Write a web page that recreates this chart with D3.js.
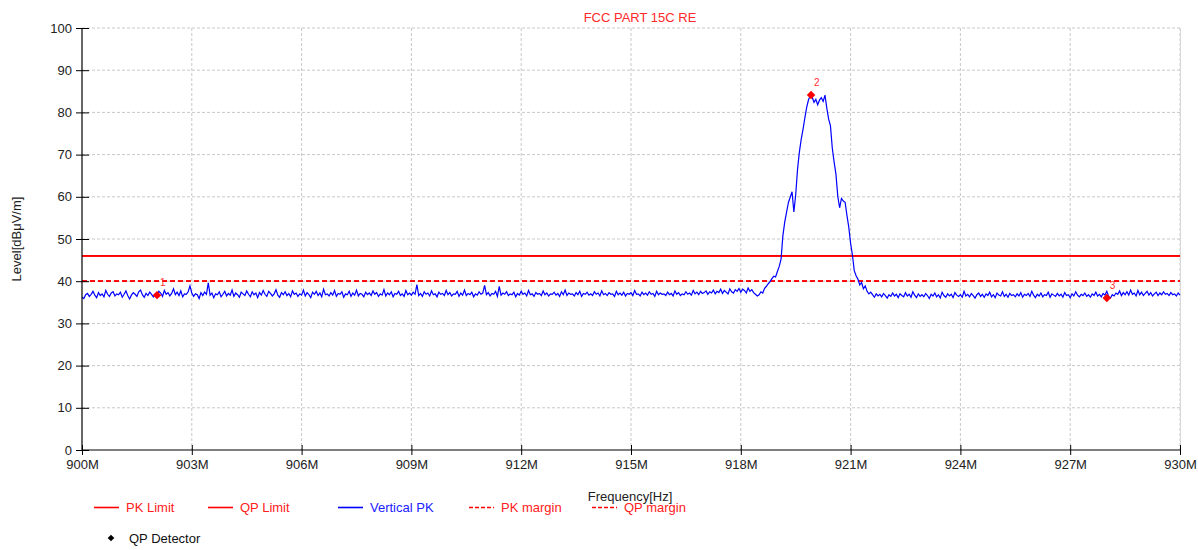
<!DOCTYPE html>
<html>
<head>
<meta charset="utf-8">
<script src="https://cdn.jsdelivr.net/npm/d3@7.9.0/dist/d3.min.js"></script>
<style>
  body { margin: 0; background: #fff; }
  svg { display: block; font-family: "Liberation Sans", Arial, sans-serif; }
</style>
</head>
<body>
<svg id="chart" width="1198" height="550"></svg>
<script>
const title = 'FCC PART 15C RE';
const freqStart = 900;   // MHz
const freqStep = 0.05;   // MHz per sweep point
const xTicks = [900, 903, 906, 909, 912, 915, 918, 921, 924, 927, 930];
const yTicks = [0, 10, 20, 30, 40, 50, 60, 70, 80, 90, 100];

const pkLimit = 46;
const qpLimit = 46;
const pkMargin = 40;
const qpMargin = 40;

// Vertical PK sweep, dBuV/m
const verticalPK = [
  36.2,35.9,36.8,37.1,36.4,36.9,37.6,36.7,36.1,37.3,36.6,37.0,36.3,37.8,36.9,36.4,37.2,37.5,36.5,37.0,
  36.8,37.4,36.2,36.9,37.7,36.6,35.8,36.7,37.3,36.9,36.4,37.5,37.9,36.8,36.2,37.1,36.6,37.4,36.9,36.3,
  37.0,36.7,37.6,37.2,36.4,37.8,36.9,37.3,36.5,37.1,38.2,36.8,37.4,36.6,37.7,36.3,37.0,36.9,37.5,38.9,
  37.2,36.4,37.0,36.8,35.9,37.3,36.6,37.4,36.9,39.6,36.7,37.2,36.1,37.0,36.8,37.5,36.3,36.9,37.6,36.5,
  37.1,36.7,37.9,36.4,37.2,36.8,36.2,37.4,37.0,36.6,37.7,36.9,36.3,37.5,36.8,37.2,36.1,37.3,36.7,37.8,
  36.9,36.4,37.6,37.1,36.5,37.0,38.0,36.7,36.2,37.3,36.8,37.5,36.6,37.1,36.3,37.7,36.9,37.2,36.4,37.0,
  36.7,37.9,36.5,37.3,36.8,36.1,37.4,36.9,37.6,36.6,37.2,36.3,38.1,36.8,37.0,36.5,37.3,36.7,37.8,36.4,
  37.1,36.9,37.5,36.2,37.0,36.8,37.6,36.4,37.2,36.7,37.9,36.5,37.1,36.9,36.3,37.4,36.8,37.2,36.6,37.7,
  36.9,37.3,36.4,37.0,36.7,38.0,36.5,37.2,36.8,37.5,36.3,37.1,36.9,37.6,36.6,37.0,36.4,37.8,36.8,37.2,
  36.7,37.4,36.9,39.2,36.6,37.1,36.4,37.5,36.9,37.2,36.5,37.7,36.8,37.0,36.3,37.4,36.9,37.1,36.6,37.8,
  36.8,37.3,36.5,37.0,36.9,37.6,36.4,37.2,36.7,37.9,36.6,37.1,36.8,37.4,36.3,37.0,36.7,37.5,36.9,37.2,
  39.0,36.8,37.3,36.5,37.1,36.9,37.6,36.4,38.8,36.7,37.2,36.9,37.5,36.6,37.0,36.8,37.4,36.3,37.1,36.7,
  37.6,36.9,37.2,36.5,37.8,36.8,37.0,36.4,37.3,36.9,37.1,36.6,37.7,36.8,37.2,36.5,37.0,36.9,37.4,36.7,
  37.1,36.4,37.5,36.8,37.9,36.6,37.2,36.9,37.0,36.5,37.3,36.8,37.6,36.4,37.1,36.9,37.4,36.7,37.0,36.6,
  37.5,36.9,37.2,36.5,37.7,36.8,37.1,36.6,37.3,36.9,37.0,36.4,37.6,36.8,37.2,36.7,37.4,36.5,37.1,36.9,
  37.3,36.6,37.8,36.9,37.0,36.5,37.4,36.8,37.2,36.7,37.5,36.9,37.1,36.4,37.6,36.8,37.2,36.9,37.0,36.6,
  37.4,36.8,37.1,36.5,37.7,36.9,37.3,36.6,37.0,36.8,37.5,36.9,37.2,36.7,37.8,37.0,37.4,36.8,37.6,37.1,
  37.3,37.7,36.9,37.5,37.2,37.9,37.0,37.6,37.3,38.1,37.1,37.8,37.4,37.0,38.2,37.5,37.2,38.0,37.6,38.3,
  37.4,38.1,37.8,37.2,38.4,37.6,38.0,37.3,36.9,36.5,
  36.8,37.5,37.2,38.3,38.8,39.4,39.9,40.6,41.2,41.0,42.3,43.5,45.2,50.8,54.0,56.3,58.6,59.9,61.2,56.4,
  60.5,66.5,70.6,73.6,76.0,78.7,81.2,83.0,84.0,83.6,82.4,83.1,81.8,82.9,83.5,82.6,84.1,81.0,78.4,76.8,
  71.5,68.2,65.3,60.1,57.4,59.6,59.0,58.7,55.6,52.8,49.0,46.2,42.5,41.3,40.5,39.1,39.7,38.2,38.9,37.6,
  37.0,
  37.4,36.8,36.2,37.0,36.5,36.9,36.3,37.1,36.6,36.0,36.8,36.4,37.2,36.5,36.9,36.1,37.0,36.6,36.3,37.3,
  36.5,36.9,36.2,37.5,36.7,36.1,37.0,36.4,36.8,36.3,37.1,36.6,35.9,36.9,36.5,37.2,36.3,36.8,36.0,37.4,
  36.6,36.2,37.0,36.5,36.9,36.1,37.3,36.7,36.4,36.8,36.2,37.6,36.5,36.9,36.3,37.1,36.6,36.0,36.8,37.2,
  36.4,36.9,36.2,37.0,36.6,37.4,36.3,36.8,36.1,37.2,36.7,36.5,37.5,36.4,36.9,36.2,37.1,36.6,36.8,36.3,
  37.0,36.5,37.3,36.2,36.9,36.6,37.1,36.4,37.6,36.7,36.1,36.9,36.5,37.2,36.3,36.8,36.6,37.4,36.2,37.0,
  36.7,36.4,37.1,36.5,36.9,36.2,37.3,36.6,36.8,36.1,37.0,36.5,37.5,36.7,36.3,36.9,36.6,37.2,36.4,36.8,
  36.2,37.0,36.6,37.4,36.5,36.9,36.3,37.1,36.7,37.6,36.4,36.0,36.8,36.5,37.2,36.9,37.7,36.6,37.3,36.8,
  37.5,36.7,37.9,36.9,37.2,36.5,37.8,36.8,37.4,36.6,37.1,37.6,36.7,37.3,36.5,37.0,37.4,36.6,37.2,36.8,
  37.5,36.9,37.1,36.6,37.3,36.8,37.0,36.5,37.2,36.7
];

// QP detector readings
const markerIds = ['1', '2', '3'];
const markerFreq = [902.05, 919.92, 928.0];
const markerLevel = [36.7, 84.1, 36.0];

const legendRow1 = [
  { label: 'PK Limit', color: '#ff0000', dash: null, text: '#ff2020' },
  { label: 'QP Limit', color: '#ff0000', dash: null, text: '#ff2020' },
  { label: 'Vertical PK', color: '#0000ff', dash: null, text: '#2020ff' },
  { label: 'PK margin', color: '#ff0000', dash: '4,2', text: '#ff2020' },
  { label: 'QP margin', color: '#ff0000', dash: '4,2', text: '#ff2020' }
];
const legendX = [94, 208, 338, 469, 592];

const svg = d3.select('#chart');
const m = { left: 82, right: 1180, top: 28, bottom: 450 };

const x = d3.scaleLinear().domain([900, 930]).range([m.left, m.right]);
const y = d3.scaleLinear().domain([0, 100]).range([m.bottom, m.top]);

// grid
svg.append('g')
  .selectAll('line')
  .data(yTicks.filter(d => d > 0))
  .join('line')
    .attr('x1', m.left).attr('x2', m.right)
    .attr('y1', d => y(d)).attr('y2', d => y(d))
    .attr('stroke', '#c8c8c8')
    .attr('stroke-dasharray', '3,2');

svg.append('g')
  .selectAll('line')
  .data(xTicks.filter(d => d > 900))
  .join('line')
    .attr('x1', d => x(d)).attr('x2', d => x(d))
    .attr('y1', m.top).attr('y2', m.bottom)
    .attr('stroke', '#c8c8c8')
    .attr('stroke-dasharray', '3,2');

svg.append('line')
  .attr('x1', m.right + 0.5).attr('x2', m.right + 0.5)
  .attr('y1', m.top).attr('y2', m.bottom)
  .attr('stroke', '#d8d8d8');

// title
svg.append('text')
  .attr('x', 640).attr('y', 22)
  .attr('text-anchor', 'middle')
  .attr('font-size', 13)
  .attr('fill', '#ff2a2a')
  .text(title);

// limit and margin lines
const limits = [
  { v: pkLimit, dash: null },
  { v: qpLimit, dash: null },
  { v: pkMargin, dash: '5,3' },
  { v: qpMargin, dash: '5,3' }
];
svg.append('g')
  .selectAll('line')
  .data(limits)
  .join('line')
    .attr('x1', m.left).attr('x2', m.right)
    .attr('y1', d => y(d.v)).attr('y2', d => y(d.v))
    .attr('stroke', '#ff0000')
    .attr('stroke-width', 1.8)
    .attr('stroke-dasharray', d => d.dash);

// trace
const line = d3.line()
  .x((d, i) => x(freqStart + i * freqStep))
  .y(d => y(d));

svg.append('path')
  .datum(verticalPK)
  .attr('d', line)
  .attr('fill', 'none')
  .attr('stroke', '#0000ff')
  .attr('stroke-width', 1.2);

// axes
const yAxis = svg.append('g')
  .attr('transform', `translate(${m.left},0)`)
  .call(d3.axisLeft(y).tickValues(yTicks).tickSize(6).tickPadding(4));
yAxis.selectAll('.tick line').clone().attr('x2', 7);

const xAxis = svg.append('g')
  .attr('transform', `translate(0,${m.bottom})`)
  .call(d3.axisBottom(x).tickValues(xTicks).tickFormat(d => d + 'M').tickSize(5).tickPadding(5));
xAxis.selectAll('.tick line').clone().attr('y2', -5);

[yAxis, xAxis].forEach(g => {
  g.select('.domain').attr('stroke', '#000').attr('stroke-width', 1.2);
  g.selectAll('.tick line').attr('stroke', '#000');
  g.selectAll('text')
    .attr('font-size', 13)
    .attr('font-family', '"Liberation Sans", Arial, sans-serif')
    .attr('fill', '#222');
});
xAxis.select('.domain').attr('d', `M${m.left},0H${m.right}`);
yAxis.select('.domain').attr('d', `M0,${m.bottom}V${m.top}`);

// axis titles
svg.append('text')
  .attr('x', 630).attr('y', 501)
  .attr('text-anchor', 'middle')
  .attr('font-size', 13)
  .attr('fill', '#222')
  .text('Frequency[Hz]');

svg.append('text')
  .attr('transform', `translate(21,${(m.top + m.bottom) / 2}) rotate(-90)`)
  .attr('text-anchor', 'middle')
  .attr('font-size', 13)
  .attr('fill', '#222')
  .text('Level[dBμV/m]');

// QP markers (square diamonds)
const diamond = d3.symbol().type(d3.symbolSquare).size(36);
const markers = svg.append('g')
  .selectAll('g')
  .data(markerIds.map((id, i) => ({ id, f: markerFreq[i], v: markerLevel[i] })))
  .join('g')
    .attr('transform', d => `translate(${x(d.f)},${y(d.v)})`);
markers.append('path')
  .attr('d', diamond)
  .attr('transform', 'rotate(45)')
  .attr('fill', '#ff0000');
markers.append('text')
  .attr('x', 3).attr('y', -9)
  .attr('font-size', 10)
  .attr('fill', '#ff3030')
  .text(d => d.id);

// legend
const legend = svg.append('g')
  .selectAll('g')
  .data(legendRow1)
  .join('g')
    .attr('transform', (d, i) => `translate(${legendX[i]},512)`);
legend.append('line')
  .attr('x1', 0).attr('x2', 25)
  .attr('y1', -4.5).attr('y2', -4.5)
  .attr('stroke', d => d.color)
  .attr('stroke-width', 1.6)
  .attr('stroke-dasharray', d => d.dash);
legend.append('text')
  .attr('x', 32).attr('y', 0)
  .attr('font-size', 13)
  .attr('fill', d => d.text)
  .text(d => d.label);

svg.append('path')
  .attr('d', d3.symbol().type(d3.symbolSquare).size(22))
  .attr('transform', 'translate(111,538) rotate(45)')
  .attr('fill', '#000');
svg.append('text')
  .attr('x', 129).attr('y', 543)
  .attr('font-size', 13)
  .attr('fill', '#111')
  .text('QP Detector');
</script>
</body>
</html>
